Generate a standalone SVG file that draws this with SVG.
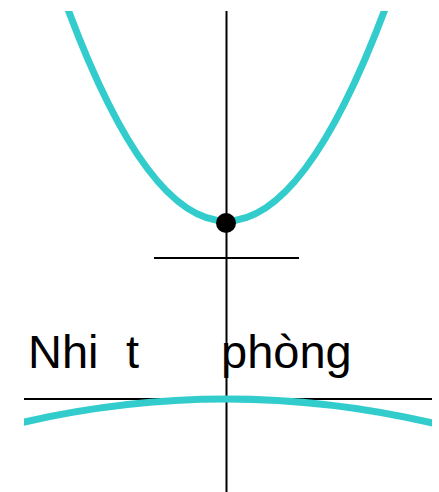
<svg xmlns="http://www.w3.org/2000/svg" width="439" height="492" viewBox="0 0 439 492">
<style>
.axis{stroke:#000;stroke-width:2;fill:none}
.curve{stroke:#33cccc;stroke-width:7;fill:none}
.lbl{font-family:"Liberation Sans",Arial,sans-serif;font-size:47px;fill:#000}
</style>
<defs>
<clipPath id="clipTop"><rect x="0" y="11" width="439" height="481"/></clipPath>
<clipPath id="clipBot"><rect x="24" y="0" width="408" height="492"/></clipPath>
</defs>
<rect width="439" height="492" fill="#fff"/>
<g id="connectors">
<line class="axis" x1="226.5" y1="11" x2="226.5" y2="492"/>
<line class="axis" x1="154" y1="258" x2="299" y2="258"/>
<line class="axis" x1="24" y1="399" x2="432" y2="399"/>
</g>
<g id="upper-curve" clip-path="url(#clipTop)">
<path class="curve" d="M56,-24 Q226,466 397,-24"/>
</g>
<g id="lower-curve" clip-path="url(#clipBot)">
<path class="curve" d="M16,423.9 Q226,374.1 436,423.9"/>
</g>
<g id="point">
<circle cx="226" cy="223" r="10" fill="#000"/>
</g>
<g id="label">
<text class="lbl" y="368"><tspan x="28">Nhi</tspan><tspan x="126">t</tspan><tspan x="221">phòng</tspan></text>
</g>
</svg>
